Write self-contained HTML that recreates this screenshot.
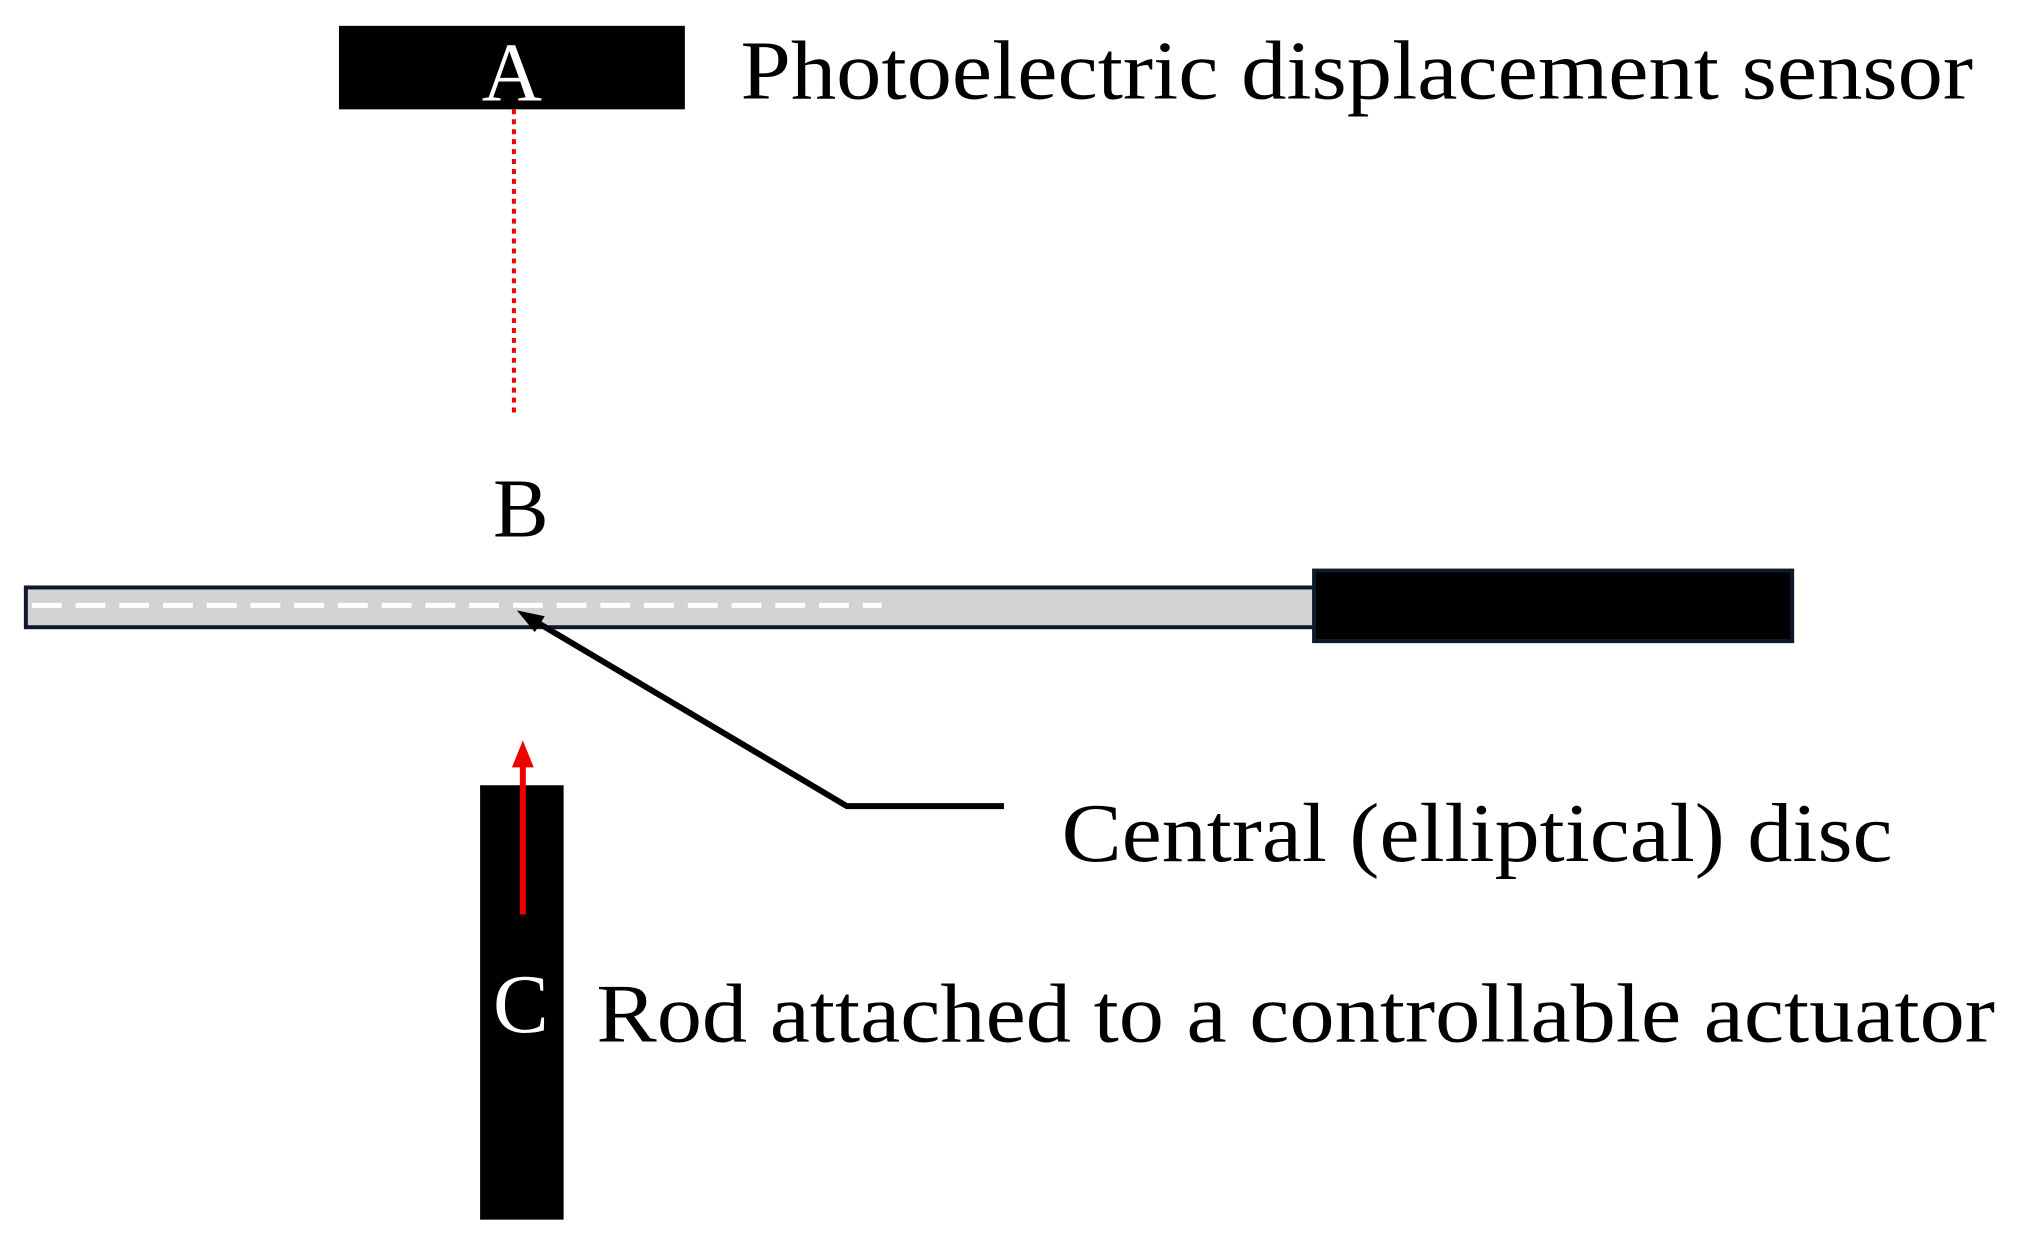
<!DOCTYPE html>
<html><head><style>html,body{margin:0;padding:0;background:#fff}svg{display:block}</style></head>
<body>
<svg width="2020" height="1249" viewBox="0 0 2020 1249" xmlns="http://www.w3.org/2000/svg" font-family="Liberation Serif, serif">
<rect width="2020" height="1249" fill="#fff"/>
<g transform="scale(0.994)">
<rect x="341" y="26" width="348" height="84" fill="#000"/>
<text x="515" y="101" font-size="84" fill="#fff" text-anchor="middle">A</text>
<text x="745" y="99" font-size="84" textLength="1240" lengthAdjust="spacingAndGlyphs">Photoelectric displacement sensor</text>
<line x1="517" y1="110" x2="517" y2="418" stroke="#e00" stroke-width="4" stroke-dasharray="5,5"/>
<text x="524" y="540" font-size="84" text-anchor="middle">B</text>
<rect x="26" y="591" width="1298" height="40" fill="#d3d3d3" stroke="#0e1a2b" stroke-width="4"/>
<line x1="32" y1="609" x2="887" y2="609" stroke="#fff" stroke-width="5" stroke-dasharray="30,14"/>
<rect x="1322" y="574" width="481" height="71" fill="#000" stroke="#0e1a2b" stroke-width="4"/>
<polyline points="1010,811 852,811 530,620" fill="none" stroke="#000" stroke-width="6"/>
<polygon points="520,614 548,620 538,636" fill="#000"/>
<text x="1068" y="866" font-size="84" textLength="836" lengthAdjust="spacingAndGlyphs">Central (elliptical) disc</text>
<rect x="483" y="790" width="84" height="437" fill="#000"/>
<line x1="526" y1="920" x2="526" y2="765" stroke="#e00" stroke-width="6"/>
<polygon points="526,745 515,772 537,772" fill="#e00"/>
<text x="524" y="1038" font-size="84" fill="#fff" text-anchor="middle">C</text>
<text x="600" y="1048" font-size="84" textLength="1407" lengthAdjust="spacingAndGlyphs">Rod attached to a controllable actuator</text>
</g>
</svg>
</body></html>
